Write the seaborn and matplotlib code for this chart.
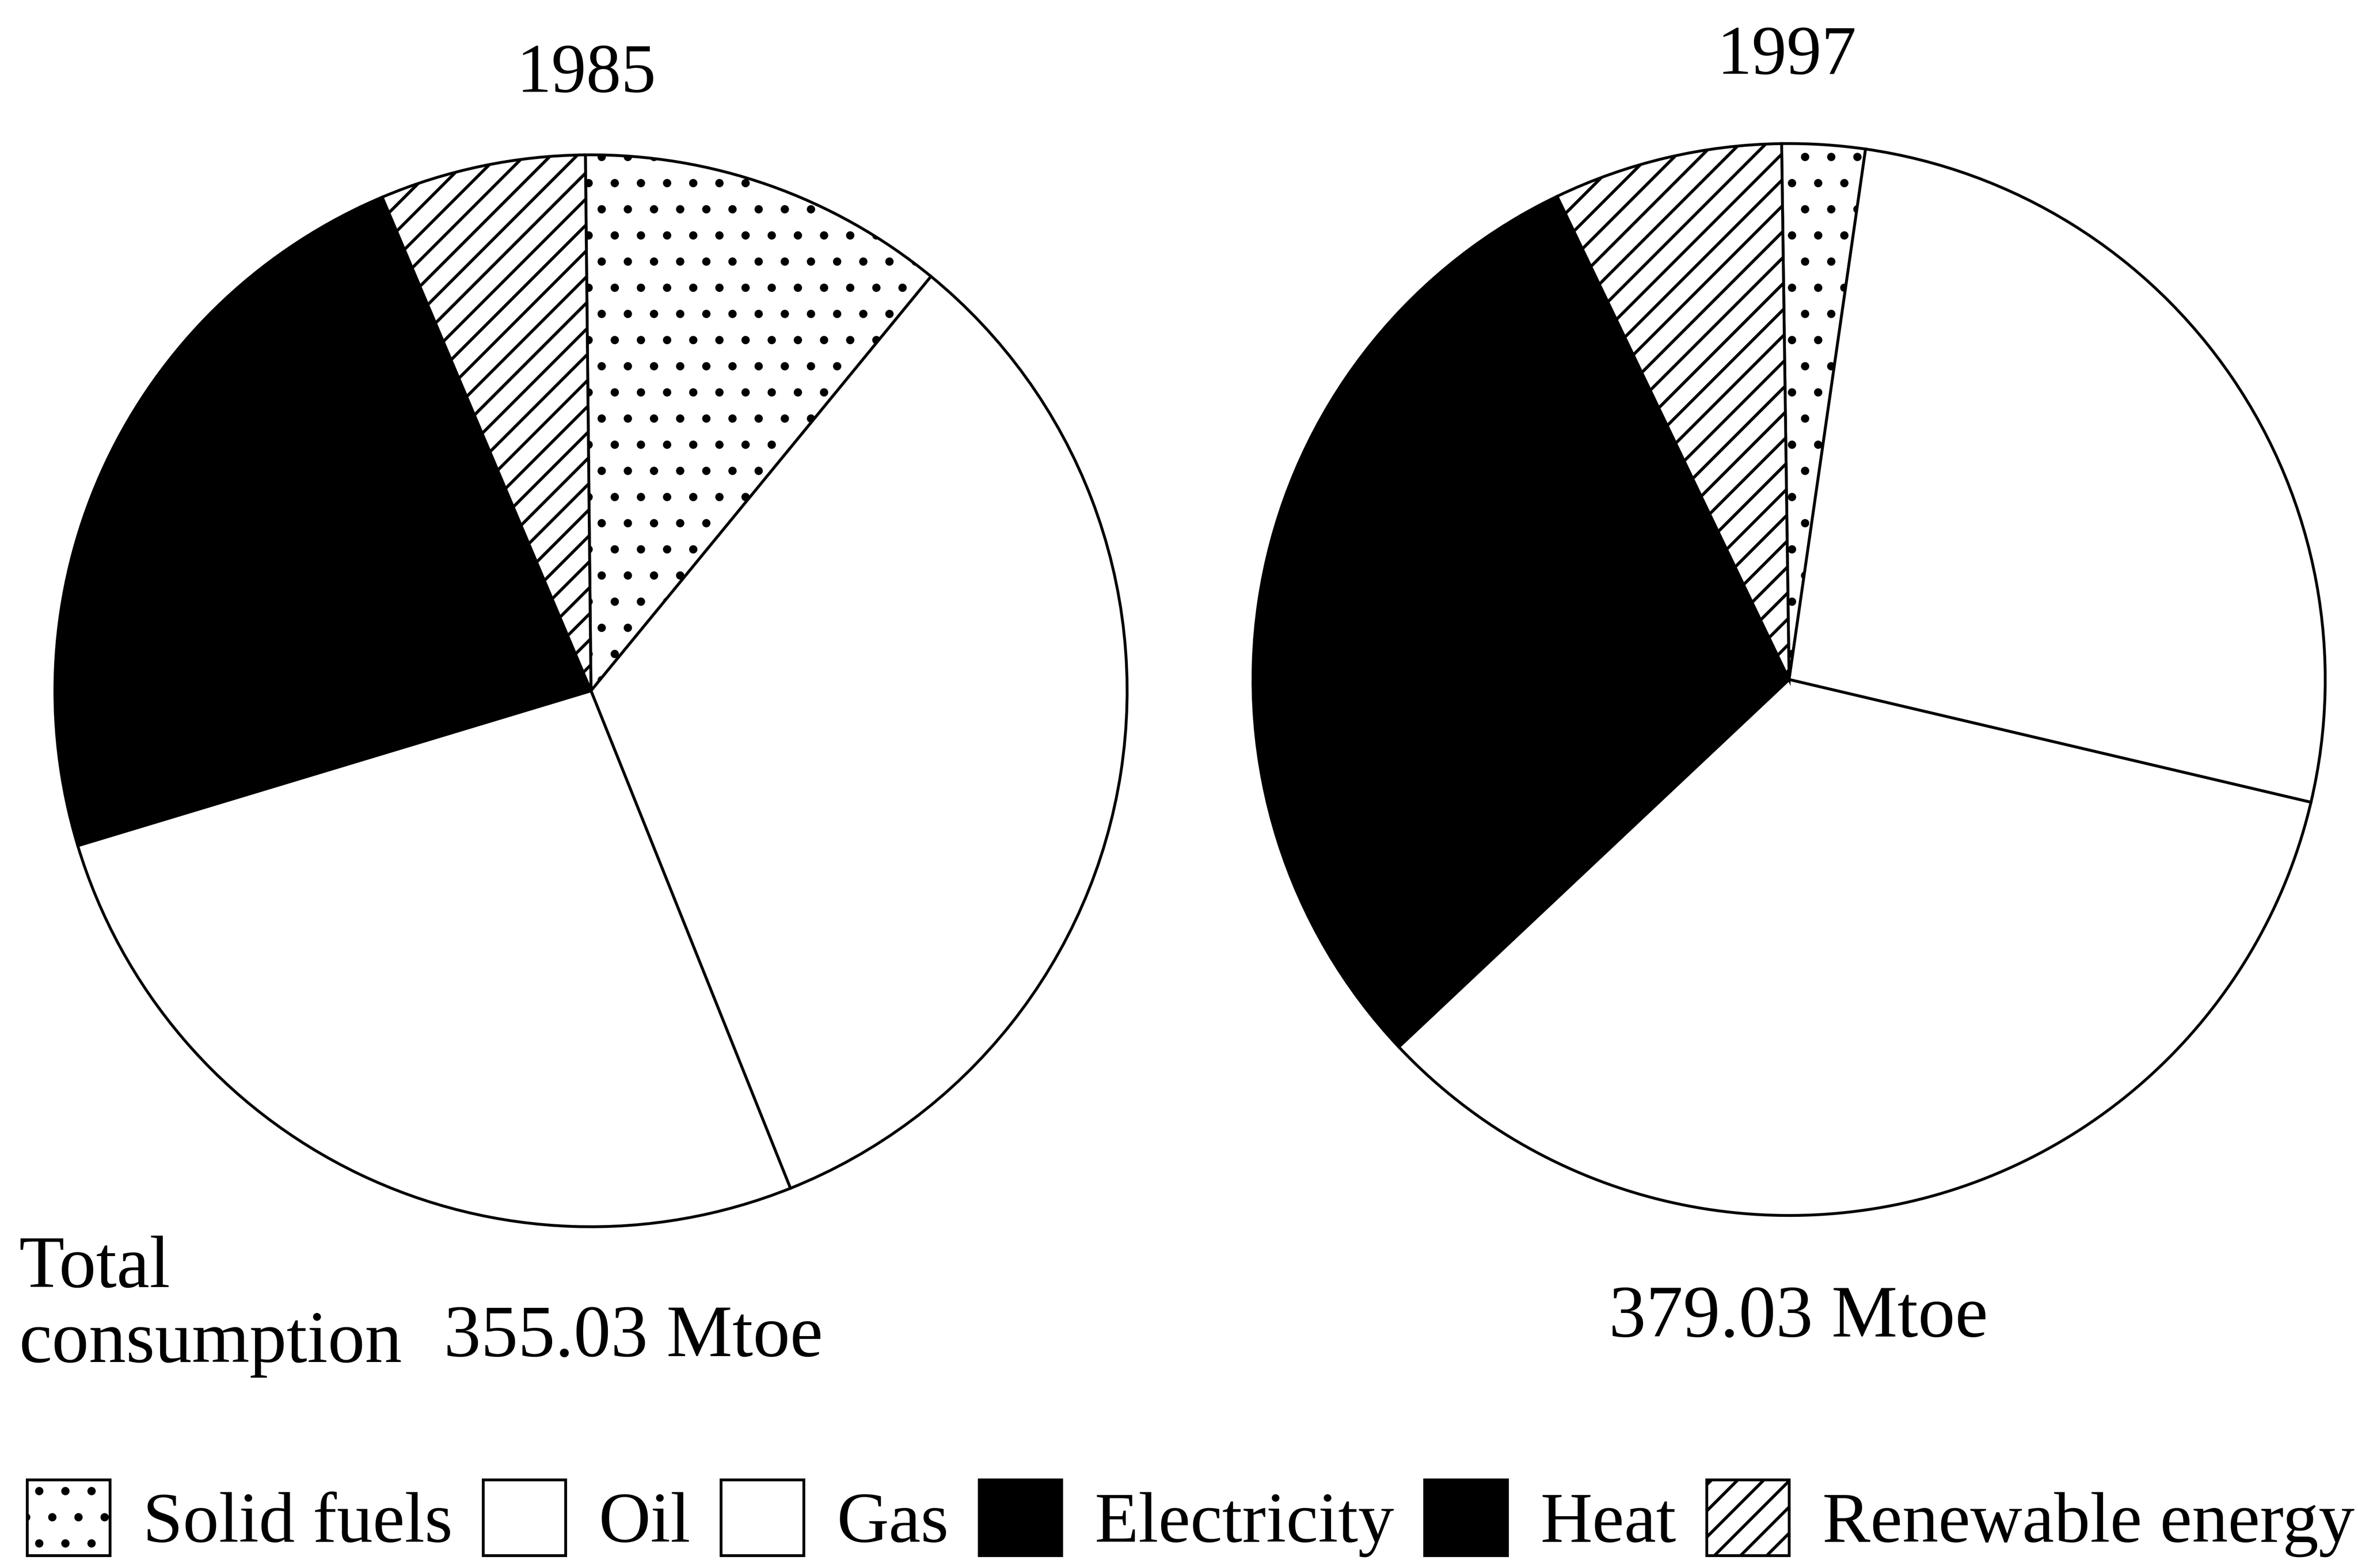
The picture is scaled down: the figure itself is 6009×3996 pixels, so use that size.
import matplotlib
matplotlib.use("Agg")
import matplotlib.pyplot as plt
import seaborn as sns

# ---- data (shares in %) ----
categories = ["Solid fuels", "Oil", "Gas", "Electricity", "Heat", "Renewable energy"]
shares_1985 = [11.1, 33.0, 26.4, 22.6, 0.7, 6.2]
shares_1997 = [2.5, 26.4, 34.3, 28.7, 1.2, 6.9]
years = ["1985", "1997"]
totals = ["355.03 Mtoe", "379.03 Mtoe"]

fill_colors = ["white", "white", "white", "black", "black", "white"]
hatches = [".", "", "", "", "", "//"]

sns.set_theme(style="white")
plt.rcParams["font.family"] = ["Liberation Serif", "DejaVu Serif"]
plt.rcParams["hatch.linewidth"] = 1.4

W, H = 1568, 1043
fig = plt.figure(figsize=(6009 / 400, 3996 / 400), dpi=400)
ax = fig.add_axes([0, 0, 1, 1])

wedge_style = dict(edgecolor="black", linewidth=1.3)
w85, _ = ax.pie(shares_1985, colors=fill_colors, hatch=hatches, startangle=90.6,
                counterclock=False, center=(393, H - 459.5), radius=356.5,
                wedgeprops=wedge_style, frame=True)
w97, _ = ax.pie(shares_1997, colors=fill_colors, hatch=hatches, startangle=90.8,
                counterclock=False, center=(1189.7, H - 452), radius=356.5,
                wedgeprops=wedge_style, frame=True)

ax.set_xlim(0, W)
ax.set_ylim(0, H)
ax.set_aspect("auto")
ax.axis("off")

# titles
ax.text(390, H - 61, years[0], ha="center", va="baseline", fontsize=32, color="black")
ax.text(1188, H - 49, years[1], ha="center", va="baseline", fontsize=32, color="black")

# totals
ax.text(12.8, H - 856, "Total", ha="left", va="baseline", fontsize=34, color="black")
ax.text(12.8, H - 906, "consumption", ha="left", va="baseline", fontsize=34, color="black")
ax.text(295, H - 902, totals[0], ha="left", va="baseline", fontsize=34, color="black")
ax.text(1196, H - 889, totals[1], ha="center", va="baseline", fontsize=34, color="black")

# legend
ax.legend(w85, categories, ncol=6, loc="center left",
          bbox_to_anchor=(18, H - 1010), bbox_transform=ax.transData,
          frameon=False, fontsize=33, handlelength=1.15, handleheight=1.25,
          handletextpad=0.46, columnspacing=0.42, borderpad=0, borderaxespad=0,
          labelcolor="black")

fig.savefig("out.png", dpi=400, facecolor="white")
